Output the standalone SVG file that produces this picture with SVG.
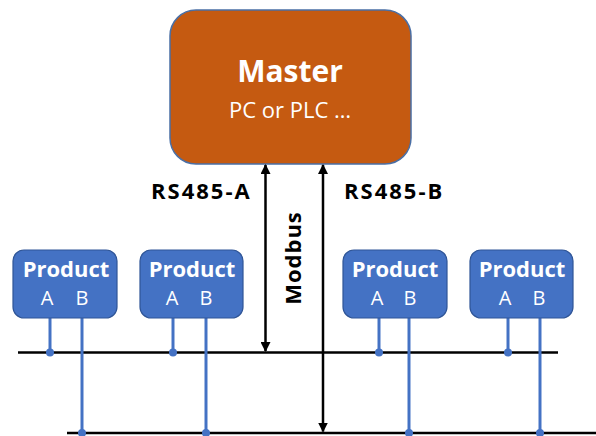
<svg xmlns="http://www.w3.org/2000/svg" width="596" height="436" viewBox="0 0 596 436">
<style>
.bus{stroke:#000;stroke-width:2.5;fill:none}
.wire{stroke:#4472C4;stroke-width:3;fill:none}
.dot{fill:#4472C4}
.prod{fill:#4472C4;stroke:#2F5597;stroke-width:1.2}
.arrow{stroke:#000;stroke-width:2.5;fill:none;marker-start:url(#ah);marker-end:url(#ah)}
.pt{font-family:"Open Sans","Liberation Sans",sans-serif;fill:#fff;text-anchor:middle}
.pn{font-size:22px;font-weight:bold}
.ab{font-size:20px}
.lbl{font-family:"Open Sans","Liberation Sans",sans-serif;font-weight:bold;font-size:22px;letter-spacing:2px;fill:#000}
</style>
<defs>
<marker id="ah" viewBox="0 0 10 10" refX="9" refY="5" markerWidth="4" markerHeight="4" orient="auto-start-reverse" markerUnits="strokeWidth">
<path d="M0,0 L10,5 L0,10 Z" fill="#000"/>
</marker>
</defs>
<g id="master">
<rect x="170" y="10" width="241" height="154" rx="26" fill="#C55A11" stroke="#4A6FA5" stroke-width="1.5"/>
<text class="pt" x="290" y="82" style="font-size:30px;font-weight:bold">Master</text>
<text class="pt" x="290" y="118" style="font-size:22px">PC or PLC …</text>
</g>
<g id="buses">
<line class="bus" x1="18" y1="352.5" x2="558" y2="352.5"/>
<line class="bus" x1="67" y1="433" x2="596" y2="433"/>
</g>
<g id="connectors">
<line class="wire" x1="50" y1="318" x2="50" y2="352"/>
<line class="wire" x1="82" y1="318" x2="82" y2="433"/>
<line class="wire" x1="173" y1="318" x2="173" y2="352"/>
<line class="wire" x1="206" y1="318" x2="206" y2="433"/>
<line class="wire" x1="379" y1="318" x2="379" y2="352"/>
<line class="wire" x1="409" y1="318" x2="409" y2="433"/>
<line class="wire" x1="508" y1="318" x2="508" y2="352"/>
<line class="wire" x1="540" y1="318" x2="540" y2="433"/>
<circle class="dot" cx="50" cy="352.5" r="4"/>
<circle class="dot" cx="82" cy="433" r="4"/>
<circle class="dot" cx="173" cy="352.5" r="4"/>
<circle class="dot" cx="206" cy="433" r="4"/>
<circle class="dot" cx="379" cy="352.5" r="4"/>
<circle class="dot" cx="409" cy="433" r="4"/>
<circle class="dot" cx="508" cy="352.5" r="4"/>
<circle class="dot" cx="540" cy="433" r="4"/>
<line class="arrow" x1="265.5" y1="165" x2="265.5" y2="351"/>
<line class="arrow" x1="323" y1="165" x2="323" y2="431.5"/>
</g>
<g id="labels">
<text class="lbl" x="151" y="199">RS485-A</text>
<text class="lbl" x="344" y="199">RS485-B</text>
<text class="lbl" transform="translate(301,258) rotate(-90)" text-anchor="middle" style="letter-spacing:1px">Modbus</text>
</g>
<g id="product1">
<rect class="prod" x="13" y="250" width="104" height="68" rx="11"/>
<text class="pt pn" x="66" y="277">Product</text>
<text class="pt ab" x="47" y="305">A</text>
<text class="pt ab" x="82" y="305">B</text>
</g>
<g id="product2">
<rect class="prod" x="140" y="250" width="103" height="68" rx="11"/>
<text class="pt pn" x="192" y="277">Product</text>
<text class="pt ab" x="172" y="305">A</text>
<text class="pt ab" x="206" y="305">B</text>
</g>
<g id="product3">
<rect class="prod" x="343" y="250" width="104" height="68" rx="11"/>
<text class="pt pn" x="395" y="277">Product</text>
<text class="pt ab" x="377" y="305">A</text>
<text class="pt ab" x="410" y="305">B</text>
</g>
<g id="product4">
<rect class="prod" x="470" y="250" width="103" height="68" rx="11"/>
<text class="pt pn" x="522" y="277">Product</text>
<text class="pt ab" x="505" y="305">A</text>
<text class="pt ab" x="539" y="305">B</text>
</g>
</svg>
